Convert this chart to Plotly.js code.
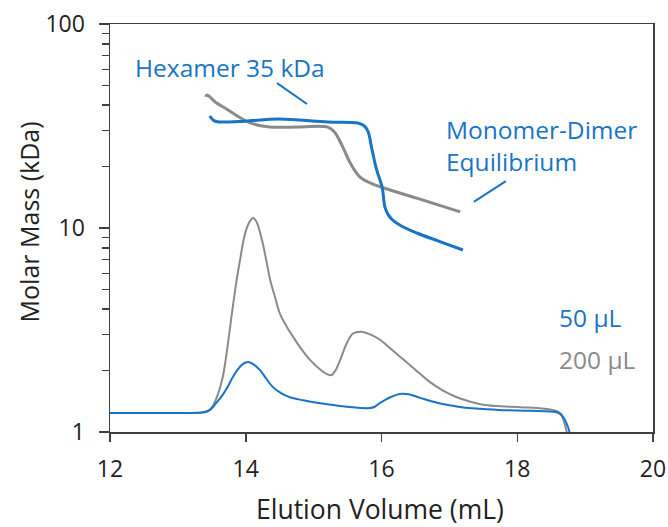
<!DOCTYPE html>
<html>
<head>
<meta charset="utf-8">
<script src="https://cdn.plot.ly/plotly-3.0.1.min.js"></script>
<style>html,body{margin:0;padding:0;background:#fff;}#chart{width:668px;height:527px;}</style>
</head>
<body>
<div id="chart"></div>
<script>
// 200 µL chromatogram (gray)
const uv200X = [12.0, 13.0, 13.35, 13.43, 13.5, 13.58, 13.66, 13.73, 13.8, 13.86, 13.92, 13.97, 14.02, 14.07, 14.11, 14.16, 14.24, 14.3, 14.36, 14.43, 14.5, 14.6, 14.7, 14.82, 14.95, 15.1, 15.2, 15.26, 15.32, 15.39, 15.49, 15.58, 15.71, 15.84, 15.98, 16.17, 16.37, 16.55, 16.71, 16.9, 17.11, 17.3, 17.5, 17.7, 17.89, 18.1, 18.29, 18.53, 18.6, 18.65, 18.69, 18.73, 18.76];
const uv200Y = [1.24, 1.24, 1.245, 1.26, 1.32, 1.5, 1.85, 2.6, 3.9, 5.4, 7.1, 8.8, 10.1, 10.9, 11.2, 10.7, 8.7, 7.0, 5.56, 4.6, 3.83, 3.3, 2.92, 2.55, 2.25, 2.02, 1.92, 1.9, 2.0, 2.25, 2.73, 3.04, 3.1, 3.0, 2.83, 2.5, 2.2, 1.95, 1.76, 1.6, 1.48, 1.41, 1.36, 1.34, 1.33, 1.32, 1.31, 1.28, 1.26, 1.22, 1.12, 1.0, 0.9];
// 50 µL chromatogram (blue)
const uv50X = [12.0, 13.0, 13.35, 13.47, 13.56, 13.66, 13.74, 13.81, 13.88, 13.94, 14.0, 14.05, 14.12, 14.21, 14.3, 14.4, 14.52, 14.65, 14.85, 15.05, 15.49, 15.83, 15.9, 15.98, 16.06, 16.13, 16.22, 16.3, 16.4, 16.57, 16.75, 16.96, 17.2, 17.45, 17.8, 18.19, 18.58, 18.64, 18.7, 18.75, 18.78, 18.8];
const uv50Y = [1.24, 1.24, 1.245, 1.28, 1.38, 1.52, 1.68, 1.86, 2.02, 2.13, 2.19, 2.2, 2.14, 2.01, 1.83, 1.66, 1.55, 1.48, 1.43, 1.39, 1.33, 1.31, 1.33, 1.39, 1.44, 1.48, 1.52, 1.54, 1.53, 1.47, 1.41, 1.36, 1.32, 1.3, 1.28, 1.27, 1.25, 1.22, 1.15, 1.05, 0.97, 0.9];
// 200 µL molar mass (gray)
const mass200X = [13.41, 13.43, 13.55, 13.74, 13.9, 14.03, 14.2, 14.39, 14.8, 15.21, 15.31, 15.43, 15.54, 15.68, 15.84, 16.01, 16.52, 17.16];
const mass200Y = [44.0, 44.9, 41.5, 37.9, 35.0, 33.1, 31.8, 31.2, 31.3, 31.2, 29.5, 24.9, 20.8, 17.8, 16.6, 15.8, 14.0, 12.0];
// 50 µL molar mass (blue)
const mass50X = [13.47, 13.53, 13.62, 13.99, 14.48, 15.21, 15.65, 15.74, 15.8, 15.86, 15.93, 16.01, 16.05, 16.1, 16.17, 16.3, 16.52, 16.85, 17.2];
const mass50Y = [35.4, 33.6, 33.1, 33.4, 34.2, 33.1, 32.7, 31.8, 29.8, 24.2, 19.2, 15.8, 12.7, 11.6, 10.9, 10.2, 9.45, 8.6, 7.8];

const xTicks = [12, 14, 16, 18, 20];
const yTicks = [1, 10, 100];
const yTickText = ['1', '10', '100'];
const yMinor = [2, 3, 4, 5, 6, 7, 8, 9, 20, 30, 40, 50, 60, 70, 80, 90];

const blue = '#1874c6';
const gray = '#8a8a8a';
const font = '"Open Sans", sans-serif';

const traces = [
  {x: uv200X, y: uv200Y, mode: 'lines', line: {color: gray, width: 2, shape: 'spline', smoothing: 1}, hoverinfo: 'skip'},
  {x: uv50X, y: uv50Y, mode: 'lines', line: {color: blue, width: 2, shape: 'spline', smoothing: 1}, hoverinfo: 'skip'},
  {x: mass200X, y: mass200Y, mode: 'lines', line: {color: gray, width: 3, shape: 'spline', smoothing: 1}, hoverinfo: 'skip'},
  {x: mass50X, y: mass50Y, mode: 'lines', line: {color: blue, width: 3, shape: 'spline', smoothing: 1}, hoverinfo: 'skip'}
];

const layout = {
  width: 668, height: 527,
  margin: {l: 110, r: 15, t: 24, b: 95},
  paper_bgcolor: '#fff', plot_bgcolor: '#fff',
  showlegend: false,
  font: {family: font, color: '#222', size: 23},
  xaxis: {
    range: [12, 20], tickvals: xTicks, ticks: 'outside', ticklen: 8, tickwidth: 1.5, tickcolor: '#404040',
    showline: true, linecolor: '#404040', linewidth: 1.5, mirror: true, showgrid: false, zeroline: false,
    ticklabelstandoff: 8,
    tickfont: {family: font, size: 23, color: '#222'}
  },
  yaxis: {
    type: 'log', range: [0, 2], tickvals: yTicks, ticktext: yTickText, ticks: 'outside', ticklen: 10, tickwidth: 1.5, tickcolor: '#404040',
    minor: {tickvals: yMinor, ticks: 'outside', ticklen: 7, tickwidth: 1.5, tickcolor: '#404040', showgrid: false},
    showline: true, linecolor: '#404040', linewidth: 1.5, mirror: true, showgrid: false, zeroline: false,
    ticklabelstandoff: 9,
    tickfont: {family: font, size: 23, color: '#222'}
  },
  shapes: [
    {type: 'line', xref: 'paper', yref: 'paper', x0: 0.3076, y0: 0.855, x1: 0.3628, y1: 0.804, line: {color: blue, width: 2}},
    {type: 'line', xref: 'paper', yref: 'paper', x0: 0.670, y0: 0.564, x1: 0.729, y1: 0.615, line: {color: blue, width: 2}}
  ],
  annotations: [
    {xref: 'paper', yref: 'paper', x: 0.497, y: -0.188, xanchor: 'center', yanchor: 'middle', showarrow: false, text: 'Elution Volume (mL)', font: {family: font, size: 26.5, color: '#222'}},
    {xref: 'paper', yref: 'paper', x: -0.150, y: 0.515, xanchor: 'center', yanchor: 'middle', textangle: -90, showarrow: false, text: 'Molar Mass (kDa)', font: {family: font, size: 25, color: '#222'}},
    {xref: 'paper', yref: 'paper', x: 0.043, y: 0.893, xanchor: 'left', yanchor: 'middle', showarrow: false, text: 'Hexamer 35 kDa', font: {family: font, size: 24.5, color: blue}},
    {xref: 'paper', yref: 'paper', x: 0.616, y: 0.703, xanchor: 'left', yanchor: 'middle', align: 'left', showarrow: false, text: 'Monomer-Dimer<br>Equilibrium', font: {family: font, size: 24.5, color: blue}},
    {xref: 'paper', yref: 'paper', x: 0.824, y: 0.281, xanchor: 'left', yanchor: 'middle', showarrow: false, text: '50 µL', font: {family: font, size: 24.5, color: blue}},
    {xref: 'paper', yref: 'paper', x: 0.824, y: 0.178, xanchor: 'left', yanchor: 'middle', showarrow: false, text: '200 µL', font: {family: font, size: 24.5, color: gray}}
  ]
};

Plotly.newPlot('chart', traces, layout, {displayModeBar: false, staticPlot: true});
</script>
</body>
</html>
